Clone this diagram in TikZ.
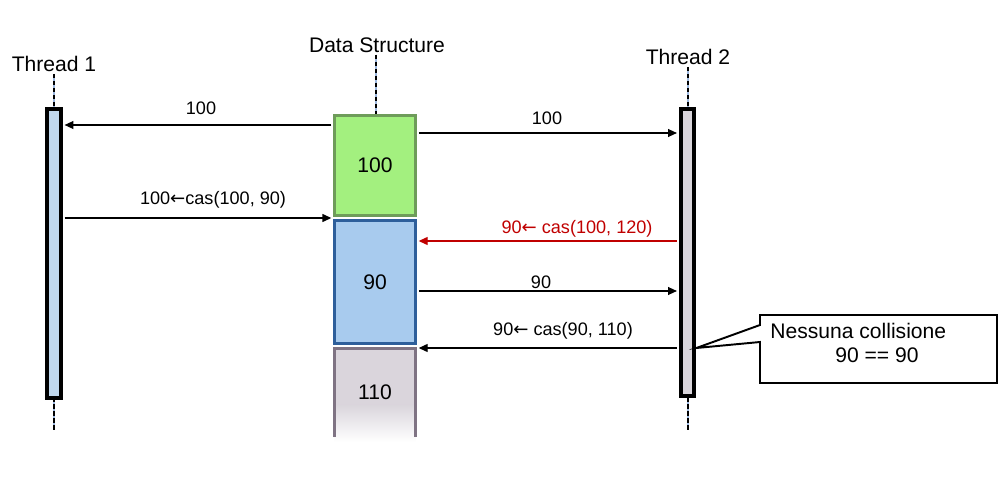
\documentclass[tikz,border=0pt]{standalone}
\usepackage{fontspec}
\setmainfont{Liberation Sans}
\newfontfamily\arrowfont{DejaVu Sans}
\newcommand{\larr}{{\arrowfont ←}}
\usetikzlibrary{arrows.meta}

\definecolor{grnfill}{HTML}{A3F07F}
\definecolor{grnedge}{HTML}{6E9C5A}
\definecolor{blufill}{HTML}{A8CBEE}
\definecolor{bluedge}{HTML}{2E5F9B}
\definecolor{gryfill}{HTML}{DAD5DC}
\definecolor{gryedge}{HTML}{7F7383}
\definecolor{bar1fill}{HTML}{C0D8EE}
\definecolor{bar2fill}{HTML}{D9D5DB}
\definecolor{lifeblue}{HTML}{9DB8E0}
\definecolor{casred}{HTML}{C00000}

\begin{document}
\begin{tikzpicture}[x=0.02cm,y=-0.02cm,
  msg/.style={-{Triangle[length=5pt,width=4.5pt]},line width=0.6pt,shorten >=1pt,shorten <=1pt},
  lbl/.style={font=\fontsize{10.3}{12}\selectfont,inner sep=1pt},
  head/.style={font=\fontsize{12}{14}\selectfont,inner sep=1pt},
  bar/.style={draw,line width=2.4pt,minimum width=0.27cm,inner sep=0pt},
  cell/.style={minimum width=1.62cm,line width=1.7pt,inner sep=0pt,font=\fontsize{12}{14}\selectfont},
  life/.style={line width=1.1pt,dash pattern=on 2.5pt off 1.5pt}]
\useasboundingbox (0,0) rectangle (1006,476);

% rows of the messages
\coordinate (r1) at (0,125);
\coordinate (r2) at (0,133);
\coordinate (r3) at (0,218);
\coordinate (r4) at (0,241);
\coordinate (r5) at (0,291);
\coordinate (r6) at (0,348);

% heads and lifelines
\node[head] (h1) at (54,64) {Thread 1};
\node[head] (h2) at (688,57) {Thread 2};
\node[head] (hds) at (377,45) {Data Structure};
\coordinate (e1) at (54,430);
\coordinate (e2) at (688,430);
\coordinate (eds) at (376,114);
\draw[lifeblue,line width=1.1pt] (h1.south) -- (e1);
\draw[life] (h1.south) -- (e1);
\draw[lifeblue,line width=1.1pt] (h2.south) -- (e2);
\draw[life] (h2.south) -- (e2);
\draw[lifeblue,line width=1.1pt] (hds.south -| eds) -- (eds);
\draw[life] (hds.south -| eds) -- (eds);

% threads
\node[bar,fill=bar1fill,minimum height=5.77cm] (t1) at (54,253.5) {};
\node[bar,fill=bar2fill,minimum height=5.73cm] (t2) at (687.5,252.5) {};

% data structure
\node[cell,draw=grnedge,fill=grnfill,minimum height=2.0cm] (b100) at (375,165.5) {100};
\node[cell,draw=bluedge,fill=blufill,minimum height=2.46cm] (b90) at (375,282) {90};
\fill[gryfill] (334.5,348.5) rectangle (415.5,405);
\shade[top color=gryfill,bottom color=white] (334.5,404.5) rectangle (415.5,442);
\draw[gryedge,line width=1.7pt] (334.5,437) -- (334.5,348.5) -- (415.5,348.5) -- (415.5,437);
\node[cell] (b110) at (375,392) {110};

% messages
\draw[msg] (b100.west |- r1) -- (t1.east |- r1);
\node[lbl] (m1) at (201,108) {100};
\draw[msg] (b100.east |- r2) -- (t2.west |- r2);
\node[lbl] (m2) at (547,118) {100};
\draw[msg] (t1.east |- r3) -- (b100.west |- r3);
\node[lbl] (m3) at (213,200) {100\larr cas(100, 90)};
\draw[msg,casred] (t2.west |- r4) -- (b90.east |- r4);
\node[lbl,text=casred] (m4) at (577,229) {90\larr{} cas(100, 120)};
\draw[msg] (b90.east |- r5) -- (t2.west |- r5);
\node[lbl] (m5) at (541,282) {90};
\draw[msg] (t2.west |- r6) -- (b90.east |- r6);
\node[lbl] (m6) at (563,331) {90\larr{} cas(90, 110)};

% note
\draw[line width=1.1pt,line join=miter] (760,342) -- (t2.east |- r6) -- (760,325) |- (997,315) |- (760,383) -- cycle;
\node[head,anchor=west,align=left,inner sep=0pt] (note) at (770,343) {Nessuna collisione\\\hspace*{1.3cm}90 == 90};
\end{tikzpicture}
\end{document}
